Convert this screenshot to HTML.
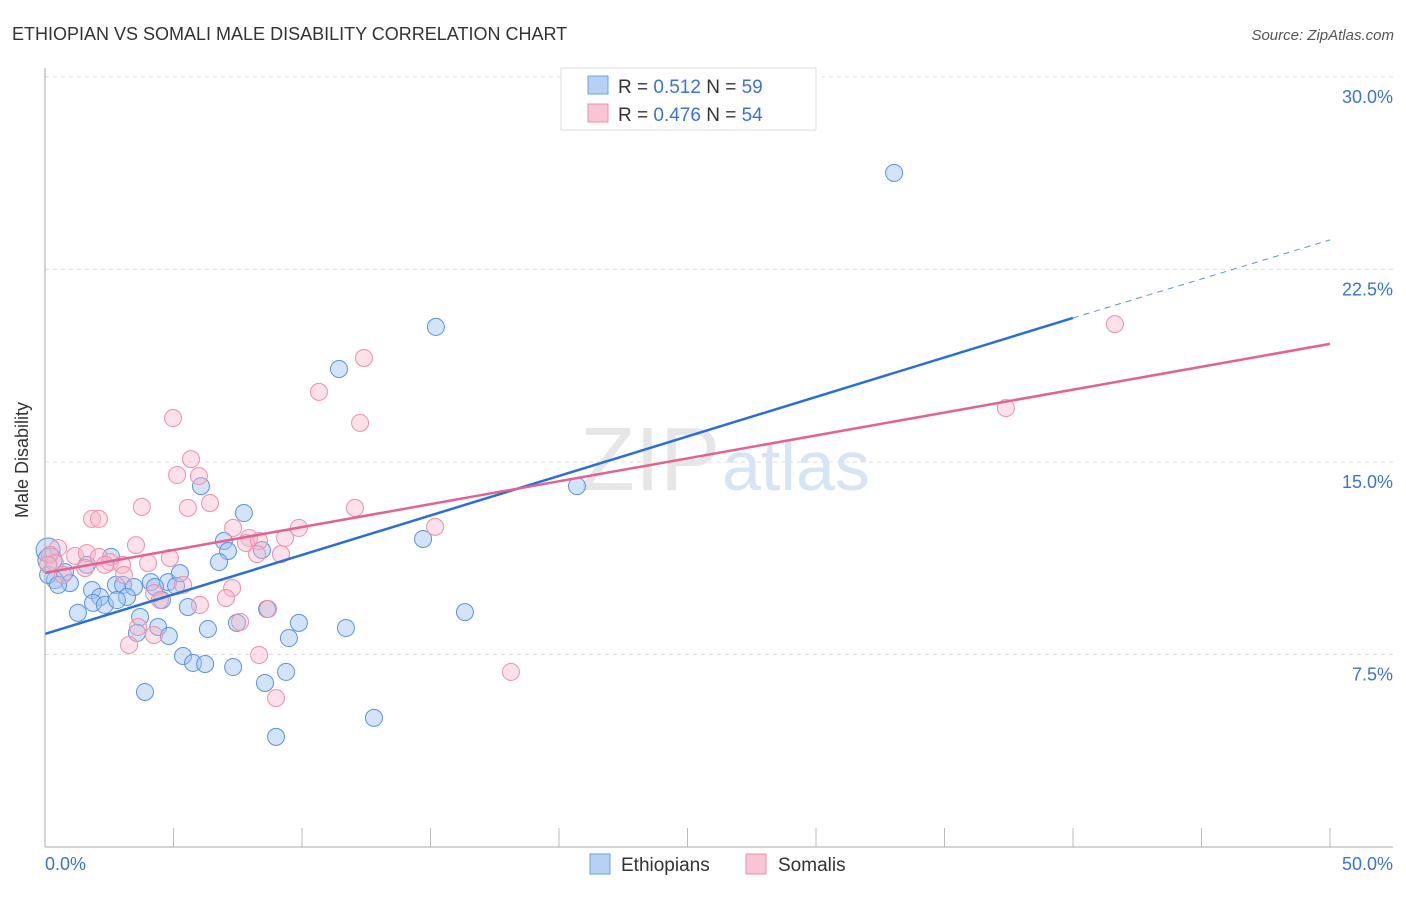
<!DOCTYPE html>
<html><head><meta charset="utf-8"><style>
body{margin:0;background:#fff;font-family:"Liberation Sans",sans-serif}
svg text{font-family:"Liberation Sans",sans-serif}
</style></head><body>
<svg width="1406" height="892" viewBox="0 0 1406 892">
<text x="12" y="40" font-size="18" fill="#333">ETHIOPIAN VS SOMALI MALE DISABILITY CORRELATION CHART</text>
<text x="1394" y="40" font-size="15" fill="#555" text-anchor="end" font-style="italic">Source: ZipAtlas.com</text>
<g id="grid"></g>
<text x="720" y="490" font-size="90" fill="#e6e6e6" text-anchor="end" font-family="Liberation Serif">ZIP</text>
<text x="722" y="490" font-size="70" fill="#d6e4f5">atlas</text>
<g id="pts"></g>
<g id="trend"></g>
<line x1="45" y1="68" x2="45" y2="847" stroke="#aaa"/>
<line x1="45" y1="847" x2="1393" y2="847" stroke="#aaa"/>
<text x="23" y="455" font-size="18" fill="#333" text-anchor="middle" transform="rotate(-90 28 455)">Male Disability</text>
<text x="45" y="870" font-size="18" fill="#3b73d0">0.0%</text>
<text x="1393" y="870" font-size="18" fill="#3b73d0" text-anchor="end">50.0%</text>
<g>
<rect x="561" y="68" width="255" height="62" fill="#fff" stroke="#ddd"/>
<rect x="588" y="76" width="20" height="18" fill="#b7d1f3" stroke="#6f9fe0"/>
<rect x="588" y="104" width="20" height="18" fill="#f9c4d4" stroke="#ec8fab"/>
<text x="618" y="93" font-size="19" fill="#333">R = <tspan fill="#3b73d0">0.512</tspan>   N = <tspan fill="#3b73d0">59</tspan></text>
<text x="618" y="121" font-size="19" fill="#333">R = <tspan fill="#3b73d0">0.476</tspan>   N = <tspan fill="#3b73d0">54</tspan></text>
</g>
<g>
<rect x="590" y="854" width="20" height="20" fill="#b7d1f3" stroke="#6f9fe0"/>
<text x="621" y="871" font-size="19" fill="#333">Ethiopians</text>
<rect x="746" y="854" width="20" height="20" fill="#f9c4d4" stroke="#ec8fab"/>
<text x="778" y="871" font-size="19" fill="#333">Somalis</text>
</g>
</svg>
<script>
const yTicks=[7.5,15,22.5,30];
const yTickLabels=["7.5%","15.0%","22.5%","30.0%"];
const xTicks=[0,5,10,15,20,25,30,35,40,45,50];
const ethX=[33.04,15.21,11.44,20.70,6.07,7.74,14.71,6.96,7.12,8.44,6.77,2.57,1.63,0.78,0.39,0.97,0.12,0.51,1.83,2.76,3.04,3.46,4.12,4.79,4.28,5.10,5.25,2.14,3.19,1.87,2.33,2.80,4.55,5.56,16.34,3.70,1.28,7.47,9.88,11.71,4.40,6.34,4.82,3.58,9.49,5.37,5.76,6.23,7.32,9.38,3.89,8.56,12.80,8.99,0.12,0.19,8.64];
const ethY=[26.26,20.26,18.62,14.06,14.06,13.01,12.00,11.92,11.53,11.57,11.10,11.30,10.99,10.71,10.40,10.28,10.60,10.21,10.01,10.21,10.21,10.13,10.32,10.32,10.13,10.17,10.67,9.74,9.74,9.51,9.43,9.62,9.62,9.35,9.15,8.96,9.12,8.73,8.73,8.53,8.57,8.49,8.22,8.34,8.14,7.44,7.17,7.13,7.01,6.82,6.04,6.39,5.03,4.29,11.57,11.18,9.27];
const somX=[41.63,12.41,10.66,12.26,37.39,4.98,5.68,5.14,5.99,6.42,5.56,3.77,12.06,15.18,1.83,2.10,7.32,9.88,9.34,7.94,7.82,8.33,3.54,4.86,0.51,0.19,0.39,1.17,1.63,2.10,2.53,2.33,3.00,4.01,8.25,9.18,0.70,1.56,3.07,7.28,7.04,4.24,4.47,8.68,7.59,3.62,4.24,3.27,8.33,18.13,8.99,5.37,0.12,6.03];
const somY=[20.37,19.05,17.73,16.52,17.10,16.71,15.11,14.49,14.45,13.40,13.21,13.25,13.21,12.47,12.78,12.78,12.43,12.43,12.04,12.04,11.84,11.92,11.76,11.26,11.65,11.38,11.06,11.34,11.45,11.30,11.10,10.99,10.99,11.06,11.41,11.41,10.60,10.87,10.60,10.09,9.70,9.89,9.62,9.27,8.77,8.57,8.26,7.87,7.48,6.82,5.80,10.21,10.99,9.43];
const ethTrend=[8.30,20.61,23.65]; // at x=0, 40, 50
const somTrend=[10.68,19.60]; // at x=0, 50
const NS="http://www.w3.org/2000/svg";
const X=v=>45+v*25.7, Y=v=>847-v*25.67;
function mk(t,a,p){const e=document.createElementNS(NS,t);for(const k in a)e.setAttribute(k,a[k]);p.appendChild(e);return e;}
const grid=document.getElementById('grid');
yTicks.forEach((t,i)=>{
 const l=mk('line',{x1:45,x2:1393,y1:Y(t),y2:Y(t),stroke:'#ddd','stroke-dasharray':'4,4'},grid);
 
 
 const tx=mk('text',{x:1393,y:Y(t)+26,'font-size':18,fill:'#3b73d0','text-anchor':'end'},grid);
 tx.textContent=yTickLabels[i];
 
 
});
xTicks.forEach(t=>{
 const l=mk('line',{x1:X(t),x2:X(t),y1:828,y2:847,stroke:'#bbb'},grid);
 
 
});
const pts=document.getElementById('pts');
ethX.forEach((x,i)=>{
 const c=mk('circle',{cx:X(x),cy:Y(ethY[i]),r:(i>=54&&i<=55)?12:8.5,fill:'rgba(160,195,240,0.45)',stroke:'#5b91de','stroke-width':1},pts);
 
 
});
somX.forEach((x,i)=>{
 const c=mk('circle',{cx:X(x),cy:Y(somY[i]),r:8.5,fill:'rgba(248,180,200,0.4)',stroke:'#ec8fab','stroke-width':1},pts);
 
 
});
const tr=document.getElementById('trend');
let l=mk('line',{x1:X(0),y1:Y(ethTrend[0]),x2:X(40),y2:Y(ethTrend[1]),stroke:'#2a6fd6','stroke-width':2.5},tr);


l=mk('line',{x1:X(40),y1:Y(ethTrend[1]),x2:X(50),y2:Y(ethTrend[2]),stroke:'#5b91de','stroke-width':1,'stroke-dasharray':'6,5'},tr);


l=mk('line',{x1:X(0),y1:Y(somTrend[0]),x2:X(50),y2:Y(somTrend[1]),stroke:'#e4628f','stroke-width':2.5},tr);


</script>
</body></html>
